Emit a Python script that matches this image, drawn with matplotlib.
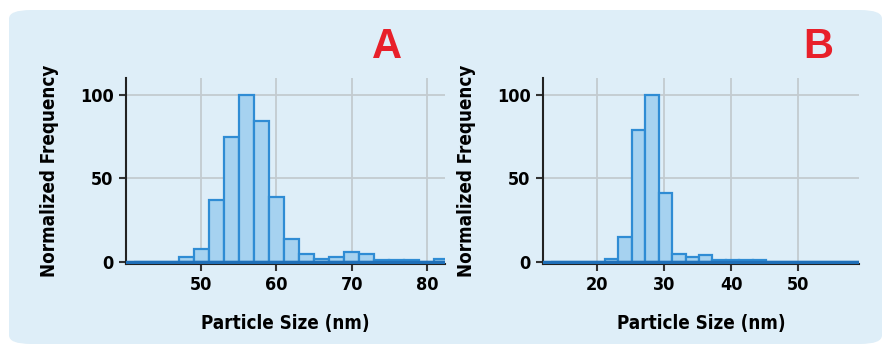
import numpy as np
import matplotlib
matplotlib.use("Agg")
import matplotlib.pyplot as plt
from matplotlib.patches import FancyBboxPatch

plt.rcParams['font.family'] = ['DejaVu Sans']
plt.rcParams['font.stretch'] = 'condensed'
plt.rcParams['font.weight'] = 'bold'

# --- datos panel A ---
centros_a = [42, 44, 46, 48, 50, 52, 54, 56, 58, 60, 62, 64, 66, 68, 70, 72, 74, 76, 78, 80, 82]
frec_a = [0, 0, 0, 3, 8, 37, 75, 100, 84, 39, 14, 5, 2, 3, 6, 5, 1, 1, 1, 0, 2]

# --- datos panel B ---
centros_b = [14.2, 16.2, 18.2, 20.2, 22.2, 24.2, 26.2, 28.2, 30.2, 32.2, 34.2, 36.2,
             38.2, 40.2, 42.2, 44.2, 46.2, 48.2, 50.2, 52.2, 54.2, 56.2, 58.2]
frec_b = [0, 0, 0, 0, 2, 15, 79, 100, 41, 5, 3, 4, 1, 1, 1, 1, 0, 0, 0, 0, 0, 0, 0]

ticks_a = [50, 60, 70, 80]
ticks_b = [20, 30, 40, 50]
ticks_y = [0, 50, 100]

fondo = '#deeef8'
relleno = '#a6d2f0'
borde = '#2f8cd4'

fig = plt.figure(figsize=(8.85, 3.47), dpi=100)
fig.patch.set_facecolor('white')

# recuadro redondeado de fondo
caja = FancyBboxPatch((9 / 885, 3 / 347), 873 / 885, 334 / 347,
                      boxstyle="round,pad=0,rounding_size=0.025",
                      transform=fig.transFigure, facecolor=fondo,
                      edgecolor='none', zorder=-10)
fig.patches.append(caja)


def dibujar(ax, centros, frec, xlim, xticks, letra, x_letra):
    ax.set_facecolor('none')
    ax.bar(centros, frec, width=2, color=relleno, edgecolor=borde,
           linewidth=1.6, zorder=3)
    ax.axhline(0, color='#1f6fb8', lw=2.5, zorder=4)
    ax.set_xlim(*xlim)
    ax.set_ylim(-1.2, 110)
    ax.set_xticks(xticks)
    ax.set_yticks(ticks_y)
    ax.grid(True, color='#c3cbd0', lw=1.3, zorder=1)
    for s in ['top', 'right']:
        ax.spines[s].set_visible(False)
    for s in ['left', 'bottom']:
        ax.spines[s].set_color('#222222')
        ax.spines[s].set_linewidth(1.5)
    ax.tick_params(axis='both', length=5, width=1.5, color='#333333',
                   labelsize=13, pad=4)
    for lab in ax.get_xticklabels() + ax.get_yticklabels():
        lab.set_fontweight('bold')
    ax.set_xlabel('Particle Size (nm)', fontsize=13.5, fontweight='bold', labelpad=14)
    ax.set_ylabel('Normalized Frequency', fontsize=13.5, fontweight='bold', labelpad=15)
    fig.text(x_letra, 1 - 47 / 347, letra, color='#e8202a', fontsize=30,
             fontweight='bold', ha='center', va='center',
             family=['Liberation Sans', 'DejaVu Sans'], stretch='normal')


ax1 = fig.add_axes([126 / 885, 1 - 264 / 347, 319 / 885, 186 / 347])
dibujar(ax1, centros_a, frec_a, (40, 82.4), ticks_a, 'A', 387 / 885)

ax2 = fig.add_axes([543 / 885, 1 - 264 / 347, 316 / 885, 186 / 347])
dibujar(ax2, centros_b, frec_b, (12, 59), ticks_b, 'B', 818 / 885)

plt.savefig('out.png', dpi=100, facecolor='white')
